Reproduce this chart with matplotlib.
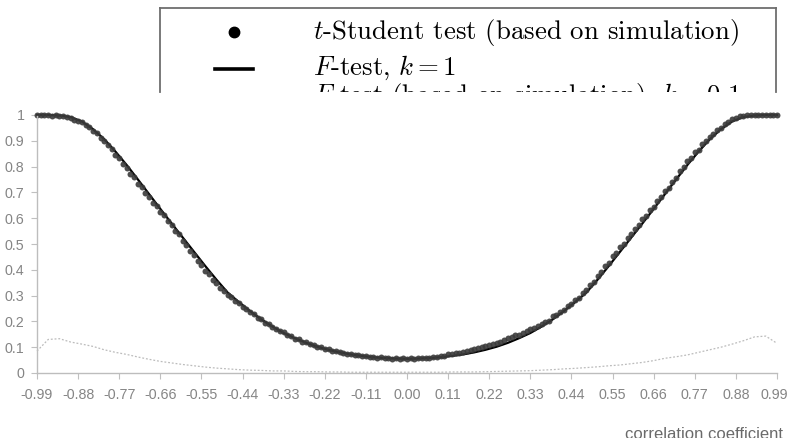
import numpy as np
import matplotlib
matplotlib.use("Agg")
import matplotlib.pyplot as plt
from matplotlib.transforms import ScaledTranslation

plt.rcParams['mathtext.fontset'] = 'cm'

# categories: correlation coefficient from -0.99 to 0.99
r = np.round(np.linspace(-0.99, 0.99, 199), 2)

# t-Student test (simulation), left half -0.99 .. -0.01
t_left = [1.000, 1.000, 0.999, 1.000, 0.998, 0.999, 0.996, 0.997, 0.991, 0.989,
          0.982, 0.976, 0.971, 0.960, 0.953, 0.939, 0.930, 0.912, 0.901, 0.882,
          0.868, 0.845, 0.832, 0.809, 0.796, 0.771, 0.759, 0.734, 0.721, 0.696,
          0.684, 0.660, 0.648, 0.624, 0.612, 0.588, 0.575, 0.550, 0.537, 0.511,
          0.497, 0.471, 0.458, 0.433, 0.417, 0.395, 0.382, 0.360, 0.348, 0.328,
          0.319, 0.301, 0.294, 0.279, 0.272, 0.256, 0.250, 0.235, 0.228, 0.214,
          0.208, 0.195, 0.190, 0.177, 0.172, 0.161, 0.158, 0.147, 0.144, 0.133,
          0.131, 0.122, 0.121, 0.111, 0.110, 0.102, 0.100, 0.093, 0.092, 0.086,
          0.085, 0.080, 0.079, 0.074, 0.074, 0.070, 0.070, 0.066, 0.066, 0.063,
          0.063, 0.060, 0.061, 0.058, 0.059, 0.056, 0.058, 0.055, 0.057]
t_mid = [0.056]
# right half 0.01 .. 0.99
t_right = [0.057, 0.056, 0.058, 0.057, 0.060, 0.059, 0.063, 0.063, 0.067, 0.067,
           0.072, 0.072, 0.077, 0.078, 0.083, 0.085, 0.090, 0.092, 0.098, 0.100,
           0.106, 0.108, 0.114, 0.116, 0.122, 0.126, 0.135, 0.140, 0.149, 0.147,
           0.156, 0.161, 0.170, 0.175, 0.184, 0.189, 0.198, 0.203, 0.219, 0.224,
           0.237, 0.245, 0.259, 0.267, 0.283, 0.292, 0.310, 0.320, 0.340, 0.353,
           0.376, 0.390, 0.414, 0.428, 0.452, 0.465, 0.488, 0.501, 0.524, 0.538,
           0.560, 0.574, 0.596, 0.609, 0.632, 0.645, 0.668, 0.681, 0.704, 0.718,
           0.742, 0.757, 0.782, 0.797, 0.822, 0.834, 0.855, 0.866, 0.887, 0.898,
           0.916, 0.925, 0.942, 0.950, 0.965, 0.971, 0.983, 0.987, 0.995, 0.996,
           0.999, 1.000, 1.000, 0.999, 1.000, 1.000, 1.000, 1.000, 1.000]
t_sim = t_left + t_mid + t_right

# F-test, k = 1 (theoretical), every 0.03
r_f = np.round(np.linspace(-0.99, 0.99, 67), 2)
f_k1 = [1.000, 1.000, 0.998, 0.992, 0.975, 0.945, 0.906, 0.858, 0.806, 0.750,
        0.693, 0.636, 0.580, 0.525, 0.470, 0.415, 0.362, 0.312, 0.275, 0.240,
        0.208, 0.180, 0.155, 0.135, 0.117, 0.102, 0.090, 0.080, 0.072, 0.066,
        0.061, 0.058, 0.056, 0.055, 0.056, 0.058, 0.061, 0.066, 0.072, 0.080,
        0.090, 0.102, 0.117, 0.135, 0.155, 0.180, 0.208, 0.240, 0.275, 0.312,
        0.362, 0.415, 0.470, 0.525, 0.580, 0.636, 0.693, 0.750, 0.806, 0.858,
        0.906, 0.945, 0.975, 0.992, 0.998, 1.000, 1.000]

# F-test (simulation), k = 0.1, every 0.03
f_k01 = [0.085, 0.130, 0.133, 0.120, 0.112, 0.103, 0.090, 0.080, 0.072, 0.062,
         0.053, 0.045, 0.039, 0.033, 0.028, 0.023, 0.019, 0.016, 0.013, 0.011,
         0.010, 0.008, 0.008, 0.006, 0.005, 0.005, 0.004, 0.004, 0.003, 0.003,
         0.003, 0.003, 0.003, 0.003, 0.003, 0.003, 0.003, 0.004, 0.004, 0.004,
         0.005, 0.006, 0.007, 0.008, 0.009, 0.011, 0.013, 0.016, 0.018, 0.021,
         0.024, 0.028, 0.031, 0.036, 0.041, 0.048, 0.057, 0.063, 0.070, 0.080,
         0.090, 0.100, 0.112, 0.125, 0.140, 0.143, 0.115]

xticks = [-0.99, -0.88, -0.77, -0.66, -0.55, -0.44, -0.33, -0.22, -0.11, 0.0,
          0.11, 0.22, 0.33, 0.44, 0.55, 0.66, 0.77, 0.88, 0.99]
xticklabels = ['-0.99', '-0.88', '-0.77', '-0.66', '-0.55', '-0.44', '-0.33', '-0.22', '-0.11',
               '0.00', '0.11', '0.22', '0.33', '0.44', '0.55', '0.66', '0.77', '0.88', '0.99']
yticks = [0, 0.1, 0.2, 0.3, 0.4, 0.5, 0.6, 0.7, 0.8, 0.9, 1.0]
yticklabels = ['0', '0.1', '0.2', '0.3', '0.4', '0.5', '0.6', '0.7', '0.8', '0.9', '1']

legend_labels = [r'$t$-Student test (based on simulation)',
                 r'$F$-test, $k=1$',
                 r'$F$-test (based on simulation), $k=0.1$']

W, H = 788, 438
fig = plt.figure(figsize=(W / 100, H / 100), dpi=100)

# main chart
ax = fig.add_axes([37 / W, (H - 373) / H, 740 / W, 258 / H])
ax.plot(r_f, f_k01, color='#bcbcbc', lw=0.9, ls=(0, (1.5, 1.5)), clip_on=False)
ax.plot(r_f, f_k1, color='black', lw=1.6, clip_on=False)
ax.plot(r, t_sim, 'o', color='#3a3a3a', ms=4.3, mec='none', alpha=0.9, clip_on=False)

ax.set_xlim(-0.99, 0.99)
ax.set_ylim(0, 1)
ax.set_xticks(xticks)
ax.set_xticklabels(xticklabels)
ax.set_yticks(yticks)
ax.set_yticklabels(yticklabels)
ax.tick_params(colors='#c0c0c0', labelcolor='#858585', length=4, width=0.8)
ax.tick_params(axis='x', pad=7)
ax.tick_params(axis='y', pad=5)
for lab in ax.get_xticklabels() + ax.get_yticklabels():
    lab.set_family('Liberation Sans')
    lab.set_fontsize(10.3)
# last x label sits right at the image edge
last = ax.get_xticklabels()[-1]
last.set_transform(last.get_transform() + ScaledTranslation(-3 / 100, 0, fig.dpi_scale_trans))
for s in ['top', 'right']:
    ax.spines[s].set_visible(False)
for s in ['left', 'bottom']:
    ax.spines[s].set_color('#bdbdbd')
    ax.spines[s].set_linestyle((0, (1, 1)))
    ax.spines[s].set_linewidth(1)

fig.text(783 / W, 1 - 439 / H, 'correlation coefficient', ha='right', va='baseline',
         family='Liberation Sans', fontsize=12, color='#6a6a6a')

# legend box (cut off at the bottom by the chart)
lg = fig.add_axes([160 / W, 1 - 92 / H, 616 / W, 84 / H])
lg.set_xlim(160, 776)
lg.set_ylim(92, 8)
lg.set_xticks([])
lg.set_yticks([])
lg.patch.set_alpha(0)
lg.spines['bottom'].set_visible(False)
for s in ['left', 'top', 'right']:
    lg.spines[s].set_color('#6e6e6e')
    lg.spines[s].set_linewidth(1.3)
lg.plot([234], [32], 'o', color='black', ms=7.5)
lg.plot([215, 253], [69, 69], color='black', lw=2.6)
for lab, yb in zip(legend_labels, [39, 75, 103]):
    lg.text(313, yb, lab, ha='left', va='baseline', family='cmr10',
            fontsize=19.3, clip_on=True)

fig.savefig('out.png', dpi=100)
